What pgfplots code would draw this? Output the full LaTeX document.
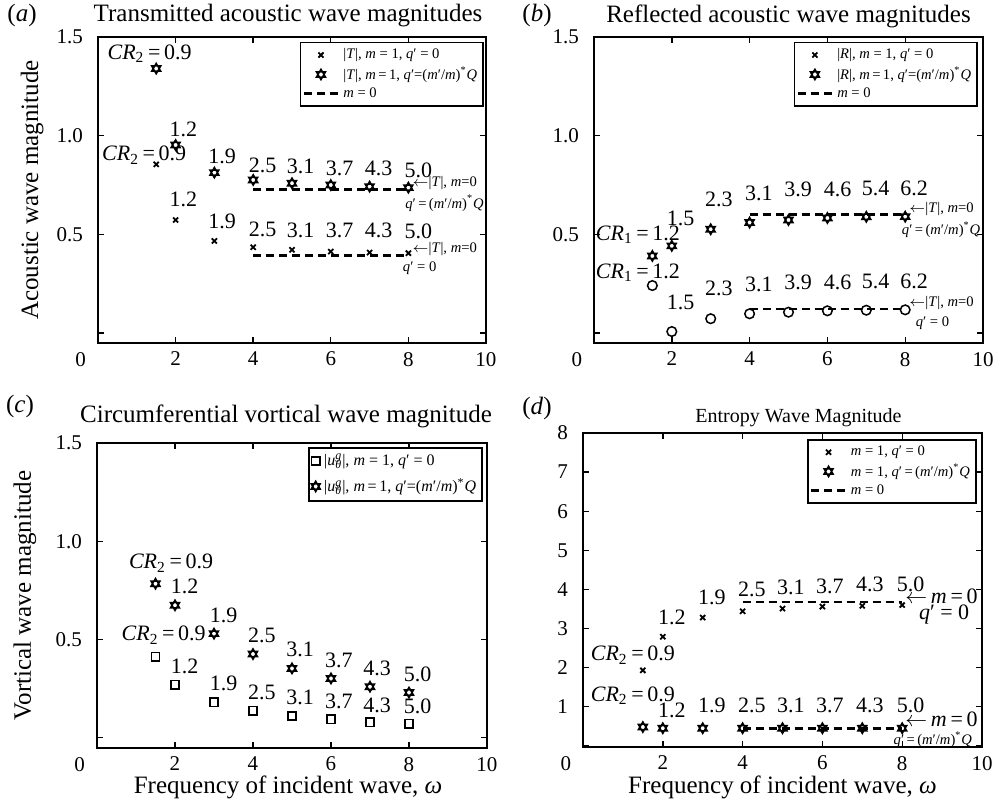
\documentclass[border=0pt]{standalone}
\usepackage{fontspec}
\setmainfont{Liberation Serif}
\usepackage{pgfplots}
\pgfplotsset{compat=1.18}

\newcommand{\ann}{\fontsize{11}{12}\selectfont}
\newcommand{\sml}{\fontsize{7.3}{8}\selectfont}
\newcommand{\mi}[1]{\textit{#1}}
\newcommand{\CR}[1]{\mi{CR}\textsubscript{#1}\,=\,}
\newcommand{\qQ}{\mi{q}′\,=\,(\mi{m}′/\mi{m})\textsuperscript{*}\mi{Q}}
\newcommand{\qQt}{\mi{q}′=(\mi{m}′/\mi{m})\textsuperscript{*}\mi{Q}}
\newcommand{\arr}{$\leftarrow$}

% MATLAB-like hexagram marker
\pgfdeclareplotmark{hexagram}{%
  \pgfpathmoveto{\pgfqpointpolar{90}{\pgfplotmarksize}}%
  \pgfpathlineto{\pgfqpointpolar{210}{\pgfplotmarksize}}%
  \pgfpathlineto{\pgfqpointpolar{330}{\pgfplotmarksize}}%
  \pgfpathclose
  \pgfpathmoveto{\pgfqpointpolar{270}{\pgfplotmarksize}}%
  \pgfpathlineto{\pgfqpointpolar{30}{\pgfplotmarksize}}%
  \pgfpathlineto{\pgfqpointpolar{150}{\pgfplotmarksize}}%
  \pgfpathclose
  \pgfusepathqstroke}

\pgfplotsset{
  panel/.style={
    scale only axis, anchor=south west, clip=false,
    xmin=0, xmax=10,
    axis line style={line width=1.2pt},
    tick align=inside, major tick length=3pt,
    tick style={line width=0.7pt, black},
    xtick={0,2,4,6,8,10},
    xticklabels={\llap{0\hspace{6pt}},2,4,6,8,10},
    /pgf/number format/assume math mode=true,
    tick label style={font=\fontsize{10.5}{12}\selectfont},
    yticklabel style={xshift=-4pt},
    xticklabel style={yshift=-1pt},
    title style={font=\fontsize{12.5}{14}\selectfont, anchor=center},
    label style={font=\fontsize{12.5}{14}\selectfont},
    legend style={draw=black, line width=0.9pt, fill=white, font=\sml,
      anchor=north east, inner sep=1pt, row sep=-1.5pt,
      legend cell align=left},
  },
  cr/.style={only marks, mark=x, mark size=1.8pt, line width=0.9pt, black},
  hx/.style={only marks, mark=hexagram, mark size=2.6pt, line width=0.75pt, black},
  ci/.style={only marks, mark=o, mark size=2.4pt, line width=0.75pt, black},
  sq/.style={only marks, mark=square, mark size=2.1pt, line width=0.75pt, black},
  dsh/.style={black, line width=1.3pt, dash pattern=on 4pt off 2.5pt},
}

\begin{document}
\begin{tikzpicture}
\useasboundingbox (0,0) rectangle (501.5pt,401.5pt);

% ---------------- (a) ----------------
\begin{axis}[panel, at={(49pt,230pt)}, width=194pt, height=153pt,
  ymin=-0.05, ymax=1.5, ytick={0,0.5,1,1.5}, yticklabels={,0.5,1.0,1.5},
  title={Transmitted acoustic wave magnitudes},
  title style={yshift=4.5pt, xshift=-2pt},
  ylabel={Acoustic wave magnitude},
  ylabel style={at={(axis description cs:-0.17,0.5)}, anchor=center},
  legend style={at={(0.995,0.985)}}]
\addplot[cr] coordinates {(1.5,0.855) (2,0.573) (3,0.467) (4,0.435) (5,0.422) (6,0.413) (7,0.408) (8,0.405)};
\addlegendentry{|\mi{T}|, \mi{m} = 1, \mi{q}′ = 0}
\addplot[hx] coordinates {(1.5,1.34) (2,0.953) (3,0.813) (4,0.776) (5,0.759) (6,0.750) (7,0.742) (8,0.737)};
\addlegendentry{|\mi{T}|, \mi{m}\,=\,1, \qQt}
\addplot[dsh] coordinates {(4,0.728) (8,0.728)};
\addlegendentry{\mi{m} = 0}
\addplot[dsh, forget plot] coordinates {(4,0.393) (8,0.393)};
\begin{scope}[every node/.style={font=\ann}]
\node at (axis cs:1.33,1.417) {\CR{2}0.9};
\node at (axis cs:2.2,1.03) {1.2};
\node at (axis cs:3.2,0.894) {1.9};
\node at (axis cs:4.24,0.852) {2.5};
\node at (axis cs:5.22,0.843) {3.1};
\node at (axis cs:6.23,0.835) {3.7};
\node at (axis cs:7.23,0.835) {4.3};
\node at (axis cs:8.26,0.826) {5.0};
\node at (axis cs:1.19,0.902) {\CR{2}0.9};
\node at (axis cs:2.2,0.675) {1.2};
\node at (axis cs:3.2,0.565) {1.9};
\node at (axis cs:4.24,0.523) {2.5};
\node at (axis cs:5.22,0.52) {3.1};
\node at (axis cs:6.23,0.52) {3.7};
\node at (axis cs:7.23,0.518) {4.3};
\node at (axis cs:8.26,0.514) {5.0};
\end{scope}
\begin{scope}[every node/.style={font=\sml, inner sep=0pt}]
\node[anchor=west] at (axis cs:8.1,0.759) {\arr|\mi{T}|, \mi{m}=0};
\node[anchor=east] at (axis cs:9.95,0.658) {\qQ};
\node[anchor=west] at (axis cs:8.1,0.425) {\arr|\mi{T}|, \mi{m}=0};
\node at (axis cs:8.29,0.329) {\mi{q}′ = 0};
\end{scope}
\end{axis}

% ---------------- (b) ----------------
\begin{axis}[panel, at={(297pt,230pt)}, width=194.5pt, height=153pt,
  ymin=-0.05, ymax=1.5, ytick={0,0.5,1,1.5}, yticklabels={,0.5,1.0,1.5},
  title={Reflected acoustic wave magnitudes},
  title style={yshift=4.5pt},
  legend style={at={(0.987,0.985)}}]
\addlegendimage{cr}
\addlegendentry{|\mi{R}|, \mi{m} = 1, \mi{q}′ = 0}
\addplot[hx] coordinates {(1.5,0.391) (2,0.442) (3,0.526) (4,0.560) (5,0.573) (6,0.583) (7,0.589) (8,0.590)};
\addlegendentry{|\mi{R}|, \mi{m}\,=\,1, \qQt}
\addplot[dsh] coordinates {(4,0.600) (8,0.600)};
\addlegendentry{\mi{m} = 0}
\addplot[ci, forget plot] coordinates {(1.5,0.241) (2,0.008) (3,0.073) (4,0.098) (5,0.106) (6,0.113) (7,0.116) (8,0.118)};
\addplot[dsh, forget plot] coordinates {(4,0.123) (8,0.123)};
\begin{scope}[every node/.style={font=\ann}]
\node at (axis cs:1.13,0.497) {\CR{1}1.2};
\node at (axis cs:2.23,0.582) {1.5};
\node at (axis cs:3.21,0.675) {2.3};
\node at (axis cs:4.24,0.708) {3.1};
\node at (axis cs:5.25,0.728) {3.9};
\node at (axis cs:6.26,0.728) {4.6};
\node at (axis cs:7.24,0.733) {5.4};
\node at (axis cs:8.23,0.733) {6.2};
\node at (axis cs:1.13,0.307) {\CR{1}1.2};
\node at (axis cs:2.23,0.155) {1.5};
\node at (axis cs:3.21,0.228) {2.3};
\node at (axis cs:4.24,0.245) {3.1};
\node at (axis cs:5.25,0.256) {3.9};
\node at (axis cs:6.26,0.256) {4.6};
\node at (axis cs:7.24,0.261) {5.4};
\node at (axis cs:8.23,0.261) {6.2};
\end{scope}
\begin{scope}[every node/.style={font=\sml, inner sep=0pt}]
\node[anchor=west] at (axis cs:8.1,0.627) {\arr|\mi{T}|, \mi{m}=0};
\node[anchor=east] at (axis cs:9.94,0.523) {\qQ};
\node[anchor=west] at (axis cs:8.1,0.155) {\arr|\mi{T}|, \mi{m}=0};
\node at (axis cs:8.7,0.051) {\mi{q}′ = 0};
\end{scope}
\end{axis}

% ---------------- (c) ----------------
\begin{axis}[panel, at={(48.5pt,27.5pt)}, width=195pt, height=152.5pt,
  ymin=-0.052, ymax=1.5, ytick={0,0.5,1,1.5}, yticklabels={,0.5,1.0,1.5},
  title={Circumferential vortical wave magnitude},
  title style={yshift=7.5pt, xshift=-3pt},
  ylabel={Vortical wave magnitude},
  ylabel style={at={(axis description cs:-0.185,0.5)}, anchor=center},
  xlabel={Frequency of incident wave, \mi{ω}},
  xlabel style={at={(axis description cs:0.49,-0.128)}, anchor=center},
  legend style={at={(0.99,0.987)}, font=\fontsize{8}{9}\selectfont, row sep=1pt}]
\addplot[sq] coordinates {(1.5,0.412) (2,0.269) (3,0.181) (4,0.137) (5,0.111) (6,0.095) (7,0.079) (8,0.071)};
\addlegendentry{|\mi{u}\rlap{\textsuperscript{\mi{g}}}\textsubscript{\mi{θ}}|, \mi{m} = 1, \mi{q}′ = 0}
\addplot[hx] coordinates {(1.5,0.784) (2,0.674) (3,0.530) (4,0.426) (5,0.353) (6,0.302) (7,0.260) (8,0.230)};
\addlegendentry{|\mi{u}\rlap{\textsuperscript{\mi{g}}}\textsubscript{\mi{θ}}|, \mi{m}\,=\,1, \qQt}
\begin{scope}[every node/.style={font=\ann}]
\node at (axis cs:1.90,0.889) {\CR{2}0.9};
\node at (axis cs:2.25,0.772) {1.2};
\node at (axis cs:3.25,0.623) {1.9};
\node at (axis cs:4.23,0.522) {2.5};
\node at (axis cs:5.21,0.449) {3.1};
\node at (axis cs:6.2,0.395) {3.7};
\node at (axis cs:7.18,0.353) {4.3};
\node at (axis cs:8.22,0.324) {5.0};
\node at (axis cs:1.71,0.522) {\CR{2}0.9};
\node at (axis cs:2.25,0.361) {1.2};
\node at (axis cs:3.25,0.277) {1.9};
\node at (axis cs:4.23,0.231) {2.5};
\node at (axis cs:5.21,0.204) {3.1};
\node at (axis cs:6.2,0.184) {3.7};
\node at (axis cs:7.18,0.167) {4.3};
\node at (axis cs:8.22,0.162) {5.0};
\end{scope}
\end{axis}

% ---------------- (d) ----------------
\begin{axis}[panel, at={(291.5pt,28pt)}, width=199.5pt, height=157pt,
  ymin=-0.03, ymax=8, ytick={0,1,...,8}, yticklabels={,1,2,3,4,5,6,7,8},
  title={Entropy Wave Magnitude},
  title style={yshift=1.5pt, xshift=8pt, font=\fontsize{10}{12}\selectfont},
  xlabel={Frequency of incident wave, \mi{ω}},
  xlabel style={at={(axis description cs:0.5,-0.128)}, anchor=center},
  legend style={at={(0.987,0.981)}}]
\addplot[cr] coordinates {(1.5,1.93) (2,2.79) (3,3.28) (4,3.44) (5,3.51) (6,3.56) (7,3.58) (8,3.60)};
\addlegendentry{\mi{m} = 1, \mi{q}′ = 0}
\addplot[hx] coordinates {(1.5,0.48) (2,0.45) (3,0.45) (4,0.45) (5,0.45) (6,0.45) (7,0.45) (8,0.45)};
\addlegendentry{\mi{m} = 1, \qQ}
\addplot[dsh] coordinates {(4,3.68) (8,3.68)};
\addlegendentry{\mi{m} = 0}
\addplot[dsh, forget plot] coordinates {(4,0.45) (8,0.45)};
\begin{scope}[every node/.style={font=\ann}]
\node at (axis cs:1.25,2.32) {\CR{2}0.9};
\node at (axis cs:2.23,3.28) {1.2};
\node at (axis cs:3.23,3.79) {1.9};
\node at (axis cs:4.23,4.0) {2.5};
\node at (axis cs:5.21,4.04) {3.1};
\node at (axis cs:6.19,4.09) {3.7};
\node at (axis cs:7.19,4.13) {4.3};
\node at (axis cs:8.21,4.13) {5.0};
\node at (axis cs:1.25,1.29) {\CR{2}0.9};
\node at (axis cs:2.23,0.91) {1.2};
\node at (axis cs:3.23,1.03) {1.9};
\node at (axis cs:4.23,1.03) {2.5};
\node at (axis cs:5.21,1.03) {3.1};
\node at (axis cs:6.19,1.03) {3.7};
\node at (axis cs:7.19,1.03) {4.3};
\node at (axis cs:8.21,1.03) {5.0};
\node[anchor=west, inner sep=0pt] at (axis cs:8.07,3.83) {\arr\,\mi{m}\,=\,0};
\node[anchor=east, inner sep=0pt] at (axis cs:9.69,3.36) {\mi{q}′ = 0};
\node[anchor=west, inner sep=0pt] at (axis cs:8.07,0.67) {\arr\,\mi{m}\,=\,0};
\end{scope}
\node[font=\sml, anchor=east, inner sep=0pt] at (axis cs:9.76,0.154) {\qQ};
\end{axis}

% panel letters
\node[font=\fontsize{12.5}{14}\selectfont] at (11pt,394pt) {(\textit{a})};
\node[font=\fontsize{12.5}{14}\selectfont] at (268.5pt,394pt) {(\textit{b})};
\node[font=\fontsize{12.5}{14}\selectfont] at (10pt,198.5pt) {(\textit{c})};
\node[font=\fontsize{12.5}{14}\selectfont] at (268.5pt,197.5pt) {(\textit{d})};
\end{tikzpicture}
\end{document}
